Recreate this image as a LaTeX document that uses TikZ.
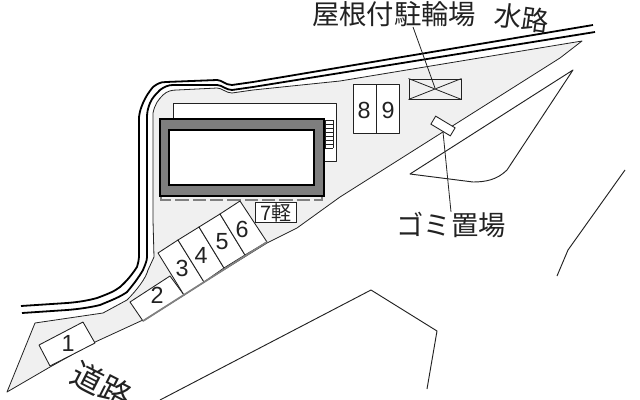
\documentclass[tikz,border=0pt]{standalone}
\usepackage{fontspec}
\setmainfont{Liberation Sans}
\newfontfamily\cjk{Noto Sans CJK JP}
\definecolor{sitegray}{HTML}{F0F0F0}
\definecolor{wallgray}{HTML}{7E7E7E}
\definecolor{inkk}{HTML}{222222}
\tikzset{
  thinline/.style={draw=inkk,line width=0.6pt,line join=round},
  water/.style={draw=black,line width=1.35pt,line join=round},
  roadline/.style={draw=inkk,line width=0.7pt,line join=round},
  bay/.style={draw=inkk,line width=0.65pt,fill=white,line join=round},
  numlabel/.style={font=\fontsize{17.5}{17.5}\selectfont,text=inkk,inner sep=0pt},
  biglabel/.style={font=\cjk\fontsize{20.5}{21}\selectfont,text=inkk,inner sep=0pt},
  leader/.style={draw=inkk,line width=0.6pt},
}
\begin{document}
\begin{tikzpicture}[x=0.75pt,y=-0.75pt]
\useasboundingbox (0,0) rectangle (640,400);
\fill[white] (0,0) rectangle (640,400);
% site
\path[thinline,fill=sitegray] (7,392) -- (35,323) -- (103,313) -- (127,300)
  .. controls (137,290) and (146,278) .. (148,270) -- (154,257) -- (153,220) -- (153,113)
  .. controls (155,104) and (158,100) .. (163,95)
  .. controls (167,91) and (172,90) .. (177,90) -- (217,88)
  .. controls (222,88) and (226,93) .. (232,93) -- (253,90) -- (340,81) -- (582,41)
  -- (560,58) -- (340,197) -- (297,228) -- (267,243) -- (143,320) -- (93,343) -- (50,367) -- cycle;
% water channel
\draw[water] (21,306) -- (67,303) .. controls (80,302) and (90,300) .. (97,298)
  .. controls (108,294) and (115,291) .. (120,287)
  .. controls (128,280) and (133,273) .. (137,267)
  .. controls (138,263) and (139,260) .. (139,257) -- (139,117)
  .. controls (140,110) and (141,108) .. (143,103)
  .. controls (146,96) and (149,92) .. (153,87)
  .. controls (157,84) and (160,82) .. (166,82) -- (217,80)
  .. controls (222,80) and (225,85) .. (232,85) -- (253,82) -- (593,25);
\draw[water] (22,313) -- (67,310) .. controls (80,309) and (92,307) .. (100,305)
  .. controls (112,300) and (120,297) .. (127,292)
  .. controls (133,285) and (139,277) .. (143,270)
  .. controls (145,265) and (147,261) .. (147,257) -- (147,117)
  .. controls (147,112) and (148,108) .. (150,103)
  .. controls (152,98) and (156,94) .. (160,90)
  .. controls (164,87) and (168,85) .. (173,85) -- (217,85)
  .. controls (222,85) and (226,90) .. (232,90) -- (253,87) -- (595,32);
% building
\draw[thinline,fill=white] (173,119) -- (173,103) -- (336,103) -- (336,161) -- (324,161);
\draw[draw=black,line width=1.2pt,fill=wallgray] (160,119) rectangle (324,196);
\draw[draw=black,line width=1.5pt,fill=white] (169,130) rectangle (314,185);
\foreach \yy in {120,124,128,132,136,140,144,148}
  \draw[draw=inkk,line width=0.5pt] (325,\yy) -- (333,\yy);
\draw[draw=inkk,line width=0.5pt] (325,120) -- (325,148) (333,120) -- (333,148);
\draw[draw=gray,line width=0.9pt,dash pattern=on 10pt off 3pt] (161,197) -- (161,200) -- (322,200) -- (322,197);
% parking bays
\draw[bay] (39,345) -- (83,322) -- (95,343) -- (50,366) -- cycle;
\draw[bay] (130,302) -- (170,276) -- (184,295) -- (143,321) -- cycle;
\draw[bay] (158,253) -- (178,240) -- (204,282) -- (184,295) -- cycle;
\draw[bay] (178,240) -- (199,227) -- (224,268) -- (204,282) -- cycle;
\draw[bay] (199,227) -- (220,214) -- (245,255) -- (224,268) -- cycle;
\draw[bay] (220,214) -- (240,201) -- (267,242) -- (245,255) -- cycle;
\draw[draw=gray,line width=1.3pt] (143,321) -- (267,242);
\node[numlabel] (p1) at (68,343) {1};
\node[numlabel] (p2) at (157,295) {2};
\node[numlabel] (p3) at (182,268) {3};
\node[numlabel] (p4) at (201,255) {4};
\node[numlabel] (p5) at (222,242) {5};
\node[numlabel] (p6) at (242,229) {6};
\node[draw=inkk,line width=0.65pt,fill=white,minimum width=30.5pt,minimum height=15.5pt,inner sep=0pt,
  font=\cjk\fontsize{15}{15}\selectfont,text=inkk] (p7) at (276,212.5) {7軽};
\draw[bay] (353,84) rectangle (376,133);
\draw[bay] (376,84) rectangle (399,133);
\node[numlabel] (p8) at (364,110) {8};
\node[numlabel] (p9) at (388,110) {9};
% bike shelter
\node[draw=inkk,line width=0.65pt,minimum width=39pt,minimum height=15pt,inner sep=0pt] (bike) at (435,89) {};
\draw[thinline] (bike.north west) -- (bike.south east) (bike.north east) -- (bike.south west);
% garbage
\node[draw=inkk,line width=0.65pt,fill=white,rotate=-31,minimum width=17pt,minimum height=7pt,inner sep=0pt] (trash) at (443,126) {};
% road lines
\draw[roadline] (573,70) -- (410,174) -- (473,182) .. controls (485,182) and (497,180) .. (507,170) -- cycle;
\draw[roadline] (625,170) -- (568,250) -- (557,276);
\draw[roadline] (160,400) -- (371,290) -- (437,331) -- (427,389);
% labels
\node[biglabel] (bikelbl) at (394,14) {屋根付駐輪場};
\node[biglabel] (trashlbl) at (451,225) {ゴミ置場};
\node[biglabel,rotate=-8] (waterlbl) at (522,18) {水路};
\node[biglabel,font=\cjk\fontsize{23.5}{24}\selectfont,rotate=-27] (roadlbl) at (102,385) {道路};
\coordinate (bikeend) at (435,88);
\draw[leader] (bikelbl.south) ++(19,0) coordinate (bikestart) -- (bikeend);
\coordinate (trashin) at (443,132);
\draw[leader] (trashin) -- (trashlbl.north);
\end{tikzpicture}
\end{document}
